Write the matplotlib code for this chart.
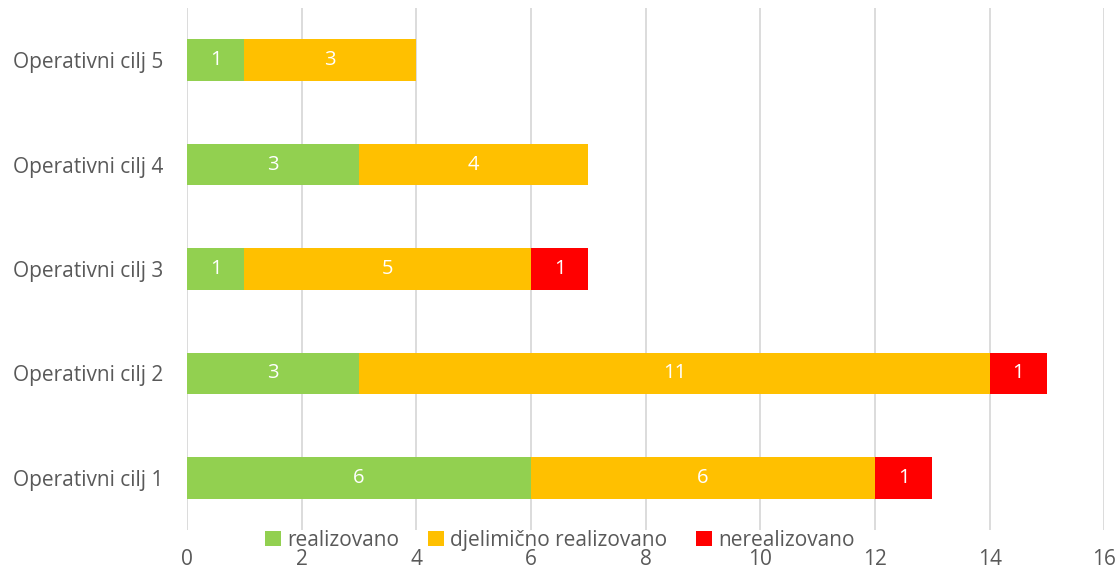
import matplotlib
matplotlib.use("Agg")
from matplotlib import pyplot as plt
import numpy as np

plt.rcParams['font.family'] = ['Open Sans', 'DejaVu Sans']

categories = ['Operativni cilj 1', 'Operativni cilj 2', 'Operativni cilj 3',
              'Operativni cilj 4', 'Operativni cilj 5']
realizovano = [6, 3, 1, 3, 1]
djelimicno = [6, 11, 5, 4, 3]
nerealizovano = [1, 1, 1, 0, 0]
series_names = ['realizovano', 'djelimično realizovano', 'nerealizovano']
colors = ['#92D050', '#FFC000', '#FF0000']

fig = plt.figure(figsize=(11.2, 5.71), dpi=100)
ax = fig.add_axes([0.167, 0.0718, 0.819, 0.9142])

y = np.arange(len(categories))
left = np.zeros(len(categories))
for vals, name, col in zip([realizovano, djelimicno, nerealizovano], series_names, colors):
    vals = np.array(vals, dtype=float)
    bars = ax.barh(y, vals, left=left, height=0.4, color=col, label=name)
    for b, v in zip(bars, vals):
        if v > 0:
            ax.text(b.get_x() + b.get_width() / 2, b.get_y() + b.get_height() / 2,
                    '%d' % v, ha='center', va='center', color='white', fontsize=14.5)
    left += vals

ax.set_xlim(0, 16)
ax.set_ylim(-0.5, 4.5)
ax.set_xticks(np.arange(0, 17, 2))
ax.set_yticks(y)
ax.set_yticklabels(categories)
ax.grid(axis='x', color='#D9D9D9', linewidth=1.3)
ax.set_axisbelow(True)
for s in ax.spines.values():
    s.set_visible(False)
ax.tick_params(axis='both', length=0, labelsize=15, colors='#595959')
ax.tick_params(axis='y', pad=17)
ax.tick_params(axis='x', pad=14)

ax.legend(loc='center', bbox_to_anchor=(0.5, 0.054), bbox_transform=fig.transFigure,
          ncol=3, frameon=False, fontsize=15, handlelength=0.75, handleheight=0.75,
          columnspacing=1.4, handletextpad=0.3, labelcolor='#595959',
          borderpad=0, borderaxespad=0)

fig.savefig('out.png', dpi=100)
